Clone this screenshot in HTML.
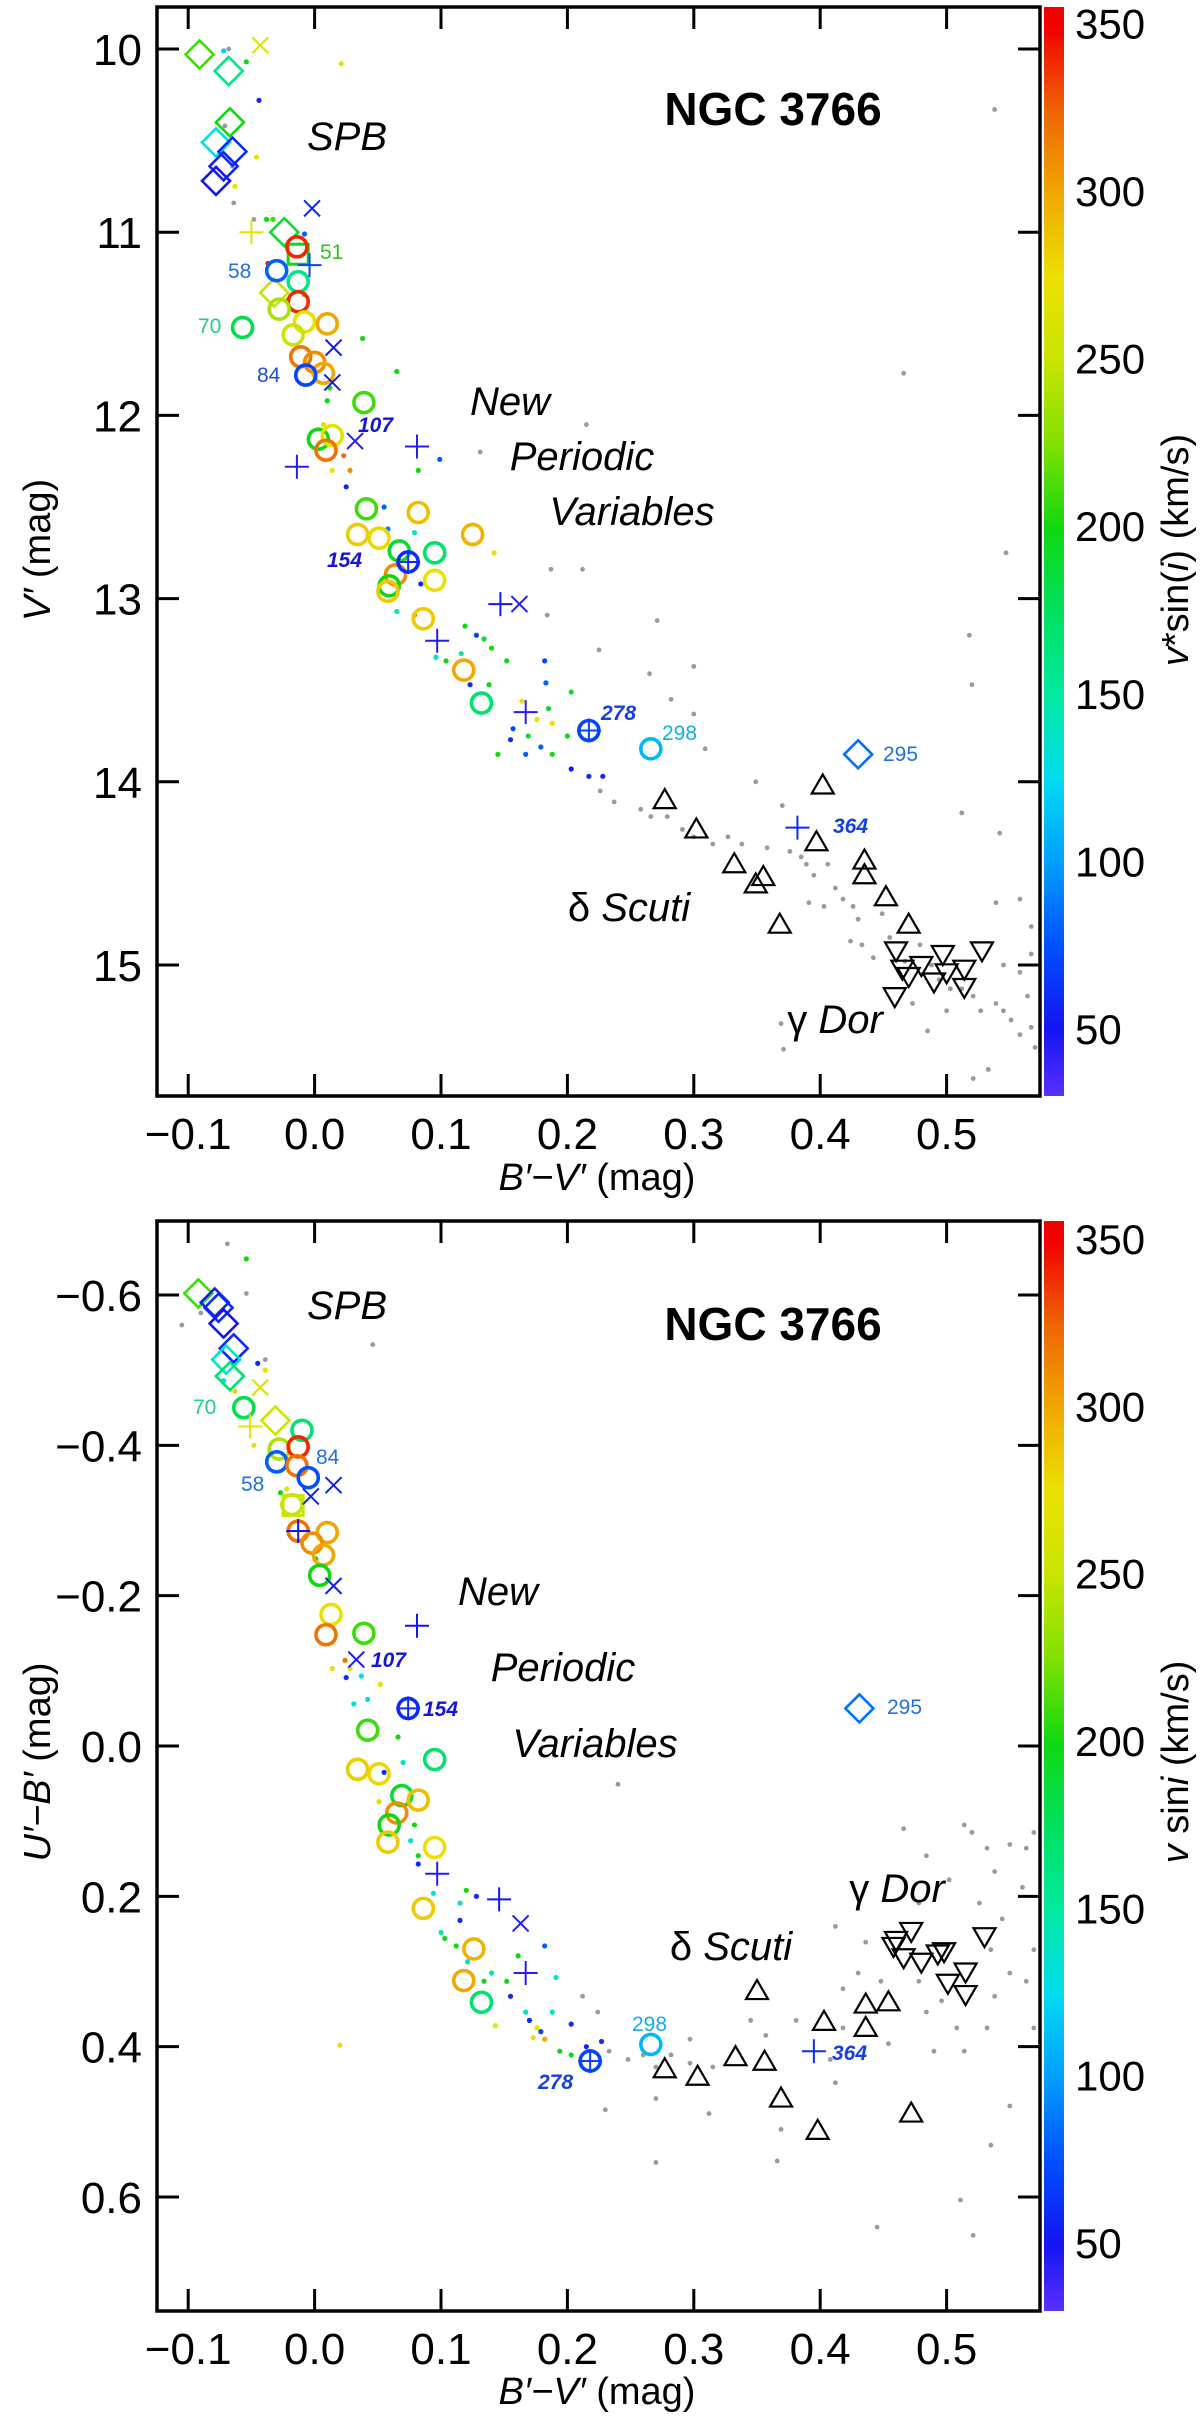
<!DOCTYPE html>
<html><head><meta charset="utf-8"><style>
html,body{margin:0;padding:0;background:#fff;}
svg{display:block;font-family:"Liberation Sans",Arial,sans-serif;}
</style></head><body>
<svg id="chart" width="1200" height="2425" viewBox="0 0 1200 2425" xmlns="http://www.w3.org/2000/svg">
<defs>
<linearGradient id="cbgrad" x1="0" y1="1" x2="0" y2="0"></linearGradient>
</defs>
<g id="top"></g>
<g id="bot"></g>
</svg>
<script>
// ---------- data: [B'-V', y-value, vsini] ----------
const xTicks = [-0.1, 0.0, 0.1, 0.2, 0.3, 0.4, 0.5];
const xTickLabels = ["\u22120.1","0.0","0.1","0.2","0.3","0.4","0.5"];
const topYTicks = [10, 11, 12, 13, 14, 15];
const botYTicks = [-0.6, -0.4, -0.2, 0.0, 0.2, 0.4, 0.6];
const botYTickLabels = ["\u22120.6","\u22120.4","\u22120.2","0.0","0.2","0.4","0.6"];
const cbTicks = [50, 100, 150, 200, 250, 300, 350];

const topCircles = [[-0.014,11.08,340],[-0.03,11.21,80],[-0.013,11.27,160],[-0.013,11.38,340],[-0.057,11.52,180],[-0.028,11.42,240],[-0.008,11.49,270],[0.01,11.5,300],[-0.017,11.56,250],[-0.011,11.68,320],[0.0,11.71,310],[0.007,11.77,300],[-0.007,11.78,70],[0.039,11.93,210],[0.003,12.13,200],[0.014,12.11,270],[0.009,12.19,320],[0.041,12.51,210],[0.082,12.53,290],[0.034,12.65,285],[0.051,12.67,280],[0.125,12.65,295],[0.067,12.74,190],[0.095,12.75,170],[0.064,12.87,310],[0.074,12.8,60],[0.095,12.9,275],[0.059,12.93,200],[0.058,12.96,285],[0.086,13.11,285],[0.118,13.39,300],[0.132,13.57,170],[0.217,13.72,70],[0.266,13.82,110]];
const topSquares = [[-0.013,11.12,200]];
const topDiamonds = [[-0.091,10.03,210],[-0.068,10.12,160],[-0.067,10.4,200],[-0.078,10.51,130],[-0.065,10.56,60],[-0.072,10.64,55],[-0.078,10.72,50],[-0.024,11.0,190],[-0.032,11.33,250],[0.43,13.85,85]];
const topPlus = [[-0.05,11.0,270],[-0.004,11.18,70],[-0.014,12.28,45],[0.081,12.17,45],[0.147,13.03,50],[0.097,13.23,45],[0.167,13.62,45],[0.382,14.25,60],[0.074,12.8,60],[0.217,13.72,70]];
const topCross = [[-0.043,9.98,260],[-0.002,10.87,60],[0.015,11.63,55],[0.014,11.82,55],[0.032,12.14,45],[0.162,13.03,45]];
const topTriUp = [[0.277,14.1],[0.302,14.26],[0.332,14.45],[0.355,14.52],[0.349,14.56],[0.368,14.78],[0.402,14.02],[0.397,14.33],[0.435,14.43],[0.435,14.51],[0.452,14.63],[0.47,14.78]];
const topTriDown = [[0.46,14.92],[0.465,15.02],[0.47,15.06],[0.48,15.0],[0.497,14.94],[0.49,15.09],[0.5,15.04],[0.514,15.02],[0.514,15.12],[0.528,14.92],[0.459,15.17]];
const topDots = [[-0.072,10.01,120],[-0.054,10.07,200],[0.021,10.08,270],[-0.044,10.28,60],[-0.046,10.59,270],[-0.063,10.75,270],[-0.038,10.93,200],[-0.033,10.93,210],[-0.008,11.01,80],[-0.037,11.17,340],[-0.021,11.37,310],[-0.008,11.34,200],[0.038,11.58,200],[0.065,11.76,200],[0.012,11.85,190],[0.010,11.92,200],[0.007,12.05,260],[0.023,12.22,320],[0.028,12.30,310],[0.025,12.39,60],[0.014,12.30,270],[0.099,12.24,80],[0.082,12.30,200],[0.055,12.50,80],[0.058,12.62,90],[0.079,12.64,140],[0.142,12.75,270],[0.084,12.92,60],[0.079,13.09,320],[0.065,13.07,150],[0.119,13.15,200],[0.128,13.20,70],[0.134,13.22,190],[0.14,13.27,200],[0.096,13.32,130],[0.104,13.34,200],[0.116,13.30,150],[0.123,13.47,60],[0.138,13.47,200],[0.152,13.34,200],[0.182,13.34,70],[0.183,13.46,80],[0.203,13.51,190],[0.164,13.56,270],[0.185,13.60,190],[0.176,13.66,270],[0.188,13.68,270],[0.2,13.75,200],[0.157,13.71,70],[0.169,13.75,190],[0.155,13.77,60],[0.179,13.81,80],[0.145,13.85,200],[0.167,13.85,80],[0.188,13.85,200],[0.203,13.93,50],[0.217,13.97,60],[0.228,13.97,60]];
const topGray = [[-0.068,10.00],[-0.065,10.64],[-0.071,10.42],[-0.064,10.84],[-0.048,10.93],[0.215,12.05],[0.131,12.20],[0.187,12.84],[0.212,12.84],[0.184,13.09],[0.271,13.12],[0.265,13.41],[0.225,13.28],[0.30,13.37],[0.282,13.55],[0.30,13.63],[0.309,13.82],[0.226,14.05],[0.237,14.11],[0.258,14.15],[0.266,14.19],[0.279,14.19],[0.291,14.26],[0.30,14.30],[0.315,14.34],[0.327,14.30],[0.338,14.34],[0.349,14.00],[0.37,14.13],[0.358,14.36],[0.376,14.38],[0.385,14.41],[0.389,14.45],[0.395,14.51],[0.406,14.45],[0.412,14.58],[0.391,14.66],[0.403,14.68],[0.418,14.64],[0.426,14.68],[0.43,14.75],[0.424,14.87],[0.433,14.89],[0.442,14.96],[0.449,14.72],[0.455,14.85],[0.467,14.98],[0.479,14.89],[0.488,15.0],[0.494,15.08],[0.503,15.13],[0.512,15.13],[0.521,15.17],[0.527,15.25],[0.539,15.21],[0.545,15.25],[0.551,15.30],[0.558,15.38],[0.564,15.17],[0.567,15.34],[0.57,15.45],[0.533,15.57],[0.521,15.62],[0.539,14.66],[0.558,14.64],[0.567,14.79],[0.558,15.04],[0.545,15.0],[0.567,14.94],[0.485,15.36],[0.466,11.77],[0.538,10.33],[0.547,12.75],[0.542,14.28],[0.518,13.20],[0.52,13.47],[0.512,14.17],[0.371,15.46],[0.473,15.21],[0.5,15.25],[0.369,15.32]];

const botCircles = [[-0.056,-0.45,180],[-0.010,-0.42,170],[-0.028,-0.395,240],[-0.03,-0.378,80],[-0.013,-0.398,340],[-0.014,-0.373,320],[-0.005,-0.357,75],[-0.018,-0.321,250],[-0.013,-0.286,320],[0.01,-0.284,300],[-0.002,-0.27,310],[0.007,-0.254,300],[0.004,-0.227,200],[0.013,-0.175,270],[0.039,-0.15,210],[0.009,-0.148,320],[0.074,-0.05,60],[0.042,-0.021,210],[0.095,0.018,170],[0.034,0.031,285],[0.051,0.037,280],[0.069,0.066,190],[0.082,0.072,290],[0.065,0.089,310],[0.059,0.105,200],[0.058,0.128,285],[0.095,0.135,275],[0.086,0.216,285],[0.126,0.27,295],[0.118,0.312,300],[0.132,0.341,170],[0.266,0.397,110],[0.218,0.419,70]];
const botSquares = [[-0.017,-0.32,250]];
const botDiamonds = [[-0.092,-0.602,210],[-0.079,-0.59,55],[-0.076,-0.583,60],[-0.072,-0.562,50],[-0.064,-0.529,60],[-0.07,-0.514,140],[-0.067,-0.492,170],[-0.031,-0.433,250],[0.431,-0.05,85]];
const botPlus = [[-0.051,-0.425,270],[-0.013,-0.286,50],[0.081,-0.16,50],[0.097,0.17,45],[0.146,0.204,50],[0.167,0.302,45],[0.395,0.406,60],[0.074,-0.05,60],[0.218,0.419,70]];
const botCross = [[-0.043,-0.477,260],[-0.003,-0.332,55],[0.015,-0.347,55],[0.015,-0.213,55],[0.033,-0.115,45],[0.163,0.236,45]];
const botTriUp = [[0.277,0.43],[0.303,0.44],[0.333,0.414],[0.35,0.326],[0.356,0.42],[0.369,0.469],[0.398,0.512],[0.403,0.367],[0.436,0.344],[0.436,0.375],[0.454,0.341],[0.472,0.489]];
const botTriDown = [[0.46,0.258],[0.458,0.266],[0.472,0.246],[0.466,0.281],[0.48,0.287],[0.493,0.276],[0.498,0.273],[0.501,0.315],[0.515,0.30],[0.515,0.33],[0.53,0.253]];
const botDots = [[-0.054,-0.648,200],[-0.045,-0.509,60],[-0.039,-0.50,270],[-0.063,-0.472,280],[-0.072,-0.486,130],[-0.048,-0.40,270],[-0.022,-0.342,270],[-0.008,-0.368,70],[-0.027,-0.337,200],[0.001,-0.249,200],[0.024,-0.114,320],[0.028,-0.103,270],[0.014,-0.103,270],[0.025,-0.091,60],[0.037,-0.093,130],[0.042,-0.062,130],[0.031,-0.056,130],[0.052,-0.082,270],[0.066,-0.012,200],[0.07,0.022,140],[0.055,0.035,60],[0.051,0.074,280],[0.079,0.105,200],[0.076,0.126,130],[0.082,0.157,60],[0.082,0.146,200],[0.094,0.196,130],[0.10,0.248,150],[0.103,0.256,200],[0.115,0.209,140],[0.12,0.192,200],[0.128,0.20,60],[0.115,0.232,60],[0.112,0.266,200],[0.121,0.287,150],[0.14,0.302,150],[0.152,0.313,200],[0.155,0.333,60],[0.167,0.354,140],[0.17,0.365,60],[0.176,0.375,270],[0.179,0.38,70],[0.182,0.39,300],[0.173,0.388,270],[0.182,0.266,80],[0.191,0.308,140],[0.188,0.354,140],[0.203,0.37,60],[0.194,0.406,200],[0.203,0.411,200],[0.215,0.40,60],[0.227,0.393,60],[0.143,0.372,270],[0.02,0.398,270],[0.134,0.313,200],[0.161,0.279,200]];
const botGray = [[-0.105,-0.56],[-0.069,-0.668],[-0.054,-0.602],[-0.09,-0.576],[-0.039,-0.514],[0.046,-0.534],[0.24,0.051],[0.212,0.333],[0.224,0.354],[0.233,0.406],[0.248,0.417],[0.26,0.411],[0.27,0.427],[0.282,0.411],[0.297,0.39],[0.297,0.422],[0.315,0.427],[0.27,0.469],[0.27,0.554],[0.312,0.489],[0.23,0.484],[0.345,0.365],[0.357,0.385],[0.381,0.365],[0.369,0.51],[0.366,0.552],[0.408,0.417],[0.412,0.448],[0.418,0.375],[0.412,0.24],[0.418,0.323],[0.445,0.64],[0.466,0.11],[0.484,0.146],[0.502,0.178],[0.514,0.105],[0.52,0.115],[0.532,0.136],[0.538,0.167],[0.55,0.131],[0.563,0.136],[0.569,0.115],[0.56,0.188],[0.544,0.23],[0.535,0.271],[0.55,0.302],[0.563,0.313],[0.569,0.375],[0.478,0.313],[0.484,0.354],[0.496,0.339],[0.508,0.375],[0.532,0.375],[0.538,0.333],[0.448,0.313],[0.43,0.302],[0.436,0.261],[0.514,0.406],[0.535,0.531],[0.55,0.479],[0.511,0.604],[0.521,0.651],[0.49,0.406],[0.454,0.396],[0.478,0.209],[0.526,0.209],[0.569,0.271]];

// ---------- colormap ----------
const cmapV = [30,50,75,100,125,150,175,200,225,250,275,300,325,350,356];
const cmapC = ["#5a30ff","#1414f0","#0050ff","#00a0ff","#00dcf0","#00eaa0","#00e060","#10d810","#80e000","#c8e400","#ece000","#f0a800","#f06400","#f00000","#f00000"];
function hex(c){return [parseInt(c.substr(1,2),16),parseInt(c.substr(3,2),16),parseInt(c.substr(5,2),16)];}
function cmap(v){
  if(v<=cmapV[0]) return cmapC[0];
  for(let i=1;i<cmapV.length;i++){ if(v<=cmapV[i]){ const t=(v-cmapV[i-1])/(cmapV[i]-cmapV[i-1]); const a=hex(cmapC[i-1]), b=hex(cmapC[i]); return "rgb("+a.map((x,k)=>Math.round(x+(b[k]-x)*t)).join(",")+")"; } }
  return cmapC[cmapC.length-1];
}
const NS="http://www.w3.org/2000/svg";
function mk(tag, attrs, parent){ const e=document.createElementNS(NS,tag); for(const k in attrs) e.setAttribute(k,attrs[k]); parent.appendChild(e); return e; }

// gradient
const grad=document.getElementById('cbgrad');
for(let i=0;i<cmapV.length;i++){ const off=(cmapV[i]-30)/(356-30); mk('stop',{offset:Math.min(1,off),'stop-color':cmapC[i]},grad); }

const X0=157, X1=1040;
const sx = b => 314.6 + b*1264;

function drawPanel(g, cfg){
  const sy=cfg.sy, T=cfg.top, B=cfg.bottom;
  // gray dots
  cfg.gray.forEach(d=>{ const e=mk('circle',{cx:sx(d[0]),cy:sy(d[1]),r:2.4,fill:'#9a9a9a'},g);
    
     });
  cfg.dots.forEach(d=>{ const e=mk('circle',{cx:sx(d[0]),cy:sy(d[1]),r:2.6,fill:cmap(d[2])},g);
    
     });
  cfg.triUp.forEach(d=>{ const x=sx(d[0]), y=sy(d[1]);
    const e=mk('polygon',{points:`${x},${y-11} ${x-11},${y+8} ${x+11},${y+8}`,fill:'none',stroke:'#000','stroke-width':2.2},g);
    
     });
  cfg.triDown.forEach(d=>{ const x=sx(d[0]), y=sy(d[1]);
    const e=mk('polygon',{points:`${x},${y+11} ${x-11},${y-8} ${x+11},${y-8}`,fill:'none',stroke:'#000','stroke-width':2.2},g);
    
     });
  cfg.diamonds.forEach(d=>{ const x=sx(d[0]), y=sy(d[1]), s=14;
    const e=mk('polygon',{points:`${x},${y-s} ${x+s},${y} ${x},${y+s} ${x-s},${y}`,fill:'none',stroke:cmap(d[2]),'stroke-width':2.6},g);
    
     });
  cfg.squares.forEach(d=>{ const x=sx(d[0]), y=sy(d[1]);
    const e=mk('rect',{x:x-10,y:y-10,width:20,height:20,fill:'none',stroke:cmap(d[2]),'stroke-width':3},g);
    
     });
  cfg.circles.forEach(d=>{ const e=mk('circle',{cx:sx(d[0]),cy:sy(d[1]),r:10,fill:'none',stroke:cmap(d[2]),'stroke-width':3.6},g);
    
     });
  cfg.plus.forEach(d=>{ const x=sx(d[0]), y=sy(d[1]), c=cmap(d[2]);
    const e=mk('path',{d:`M${x-12},${y}H${x+12}M${x},${y-12}V${y+12}`,stroke:c,'stroke-width':2},g);
    
     });
  cfg.cross.forEach(d=>{ const x=sx(d[0]), y=sy(d[1]), c=cmap(d[2]), s=8;
    const e=mk('path',{d:`M${x-s},${y-s}L${x+s},${y+s}M${x-s},${y+s}L${x+s},${y-s}`,stroke:c,'stroke-width':2},g);
    
     });
  // frame
  const fr=mk('rect',{x:X0,y:T,width:X1-X0,height:B-T,fill:'none',stroke:'#000','stroke-width':3.5},g);
  
  
  xTicks.forEach((t,i)=>{ const x=sx(t);
    const tk=mk('path',{d:`M${x},${B}V${B-22}M${x},${T}V${T+22}`,stroke:'#000','stroke-width':3},g);
    
    
    const tl=mk('text',{x:x,y:B+53,'font-size':44,'text-anchor':'middle',fill:'#000'},g); tl.textContent=xTickLabels[i];
    
     });
  cfg.yTicks.forEach((t,i)=>{ const y=sy(t);
    const tk=mk('path',{d:`M${X0},${y}H${X0+22}M${X1},${y}H${X1-22}`,stroke:'#000','stroke-width':3},g);
    
    
    const tl=mk('text',{x:142,y:y+16,'font-size':44,'text-anchor':'end',fill:'#000'},g); tl.textContent=cfg.yTickLabels[i];
    
     });
  // colorbar
  const cb=mk('rect',{x:1044,y:T,width:20,height:B-T,fill:'url(#cbgrad)'},g);
  
  
  cbTicks.forEach(v=>{ const y=cfg.cy(v);
    const tl=mk('text',{x:1075,y:y+15,'font-size':42,fill:'#000'},g); tl.textContent=v;
    
     });
}

drawPanel(document.getElementById('top'),{
  top:7,bottom:1096, sy:v=>49+(v-10)*183.2, cy:v=>1029-(v-50)*3.352,
  yTicks:topYTicks, yTickLabels:topYTicks.map(String),
  circles:topCircles,squares:topSquares,diamonds:topDiamonds,plus:topPlus,cross:topCross,
  triUp:topTriUp,triDown:topTriDown,dots:topDots,gray:topGray});
drawPanel(document.getElementById('bot'),{
  top:1221,bottom:2311, sy:v=>1746+v*751.7, cy:v=>2243-(v-50)*3.347,
  yTicks:botYTicks, yTickLabels:botYTickLabels,
  circles:botCircles,squares:botSquares,diamonds:botDiamonds,plus:botPlus,cross:botCross,
  triUp:botTriUp,triDown:botTriDown,dots:botDots,gray:botGray});
// reuse gradient per panel: bottom colorbar needs its own mapping, same value range so same gradient
</script>
<!-- static labels: top panel -->
<g font-family="Liberation Sans, Arial, sans-serif">
</g>
<svg width="1200" height="2425" style="position:absolute;left:0;top:0" xmlns="http://www.w3.org/2000/svg" font-family="Liberation Sans, Arial, sans-serif">
  <g>
    <text x="773" y="125" font-size="46" font-weight="bold" text-anchor="middle">NGC 3766</text>
    <text x="347" y="150" font-size="40" font-style="italic" text-anchor="middle">SPB</text>
    <text x="510" y="415" font-size="40" font-style="italic" text-anchor="middle">New</text>
    <text x="582" y="470" font-size="40" font-style="italic" text-anchor="middle">Periodic</text>
    <text x="632" y="525" font-size="40" font-style="italic" text-anchor="middle">Variables</text>
    <text x="629" y="921" font-size="40" font-style="italic" text-anchor="middle"><tspan font-style="normal">δ</tspan> Scuti</text>
    <text x="835" y="1033" font-size="40" font-style="italic" text-anchor="middle"><tspan font-style="normal">γ</tspan> Dor</text>
    <text x="320" y="259" font-size="21" fill="#30c020">51</text>
    <text x="228" y="278" font-size="21" fill="#2070e0">58</text>
    <text x="198" y="333" font-size="21" fill="#20d080">70</text>
    <text x="257" y="382" font-size="21" fill="#2050d0">84</text>
    <text x="358" y="432" font-size="21" font-weight="bold" font-style="italic" fill="#1515d8">107</text>
    <text x="327" y="567" font-size="21" font-weight="bold" font-style="italic" fill="#1515d8">154</text>
    <text x="601" y="720" font-size="21" font-weight="bold" font-style="italic" fill="#1540e0">278</text>
    <text x="662" y="740" font-size="21" fill="#10b0e0">298</text>
    <text x="883" y="761" font-size="21" fill="#2070e0">295</text>
    <text x="833" y="833" font-size="21" font-weight="bold" font-style="italic" fill="#1540e0">364</text>
    <text x="597" y="1190" font-size="38" text-anchor="middle"><tspan font-style="italic">B′−V′</tspan> (mag)</text>
    <text transform="translate(50,550) rotate(-90)" font-size="38" text-anchor="middle"><tspan font-style="italic">V′</tspan> (mag)</text>
    <text transform="translate(1188,550) rotate(-90)" font-size="38" text-anchor="middle"><tspan font-style="italic">v</tspan>*sin(<tspan font-style="italic">i</tspan>) (km/s)</text>
  </g>
  <g>
    <text x="773" y="1340" font-size="46" font-weight="bold" text-anchor="middle">NGC 3766</text>
    <text x="347" y="1319" font-size="40" font-style="italic" text-anchor="middle">SPB</text>
    <text x="498" y="1605" font-size="40" font-style="italic" text-anchor="middle">New</text>
    <text x="563" y="1681" font-size="40" font-style="italic" text-anchor="middle">Periodic</text>
    <text x="595" y="1757" font-size="40" font-style="italic" text-anchor="middle">Variables</text>
    <text x="731" y="1960" font-size="40" font-style="italic" text-anchor="middle"><tspan font-style="normal">δ</tspan> Scuti</text>
    <text x="897" y="1902" font-size="40" font-style="italic" text-anchor="middle"><tspan font-style="normal">γ</tspan> Dor</text>
    <text x="193" y="1414" font-size="21" fill="#20d080">70</text>
    <text x="241" y="1491" font-size="21" fill="#2070e0">58</text>
    <text x="316" y="1464" font-size="21" fill="#2070e0">84</text>
    <text x="371" y="1667" font-size="21" font-weight="bold" font-style="italic" fill="#1515d8">107</text>
    <text x="423" y="1716" font-size="21" font-weight="bold" font-style="italic" fill="#1515d8">154</text>
    <text x="538" y="2089" font-size="21" font-weight="bold" font-style="italic" fill="#1540e0">278</text>
    <text x="632" y="2031" font-size="21" fill="#10b0e0">298</text>
    <text x="887" y="1714" font-size="21" fill="#2070e0">295</text>
    <text x="832" y="2060" font-size="21" font-weight="bold" font-style="italic" fill="#1540e0">364</text>
    <text x="597" y="2404" font-size="38" text-anchor="middle"><tspan font-style="italic">B′−V′</tspan> (mag)</text>
    <text transform="translate(50,1762) rotate(-90)" font-size="38" text-anchor="middle"><tspan font-style="italic">U′−B′</tspan> (mag)</text>
    <text transform="translate(1188,1762) rotate(-90)" font-size="38" text-anchor="middle"><tspan font-style="italic">v</tspan> sin<tspan font-style="italic">i</tspan> (km/s)</text>
  </g>
</svg>
<style>body{position:relative;width:1200px;height:2425px;overflow:hidden;}</style>
</body></html>
